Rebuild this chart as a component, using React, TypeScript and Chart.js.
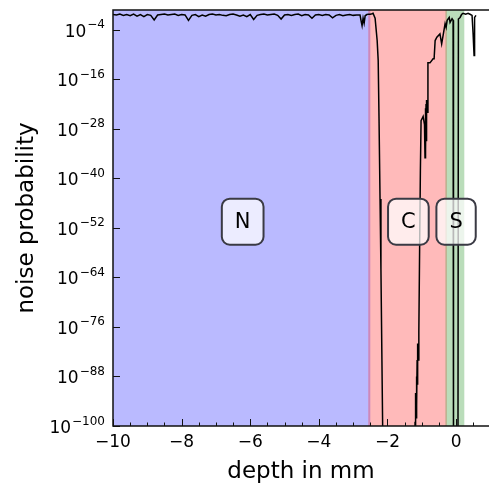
import React, { useEffect, useRef } from 'react';
import { Chart, registerables } from 'chart.js';

Chart.register(...registerables);

// depth in mm (x) and log10 of the noise probability (y)
const depthMm = [
  -10.0, -9.9, -9.8, -9.7, -9.6, -9.5, -9.4, -9.3, -9.2, -9.1,
  -9.0, -8.9, -8.8, -8.7, -8.6, -8.5, -8.4, -8.3, -8.2, -8.1,
  -8.0, -7.9, -7.8, -7.7, -7.6, -7.5, -7.4, -7.3, -7.2, -7.1,
  -7.0, -6.9, -6.8, -6.7, -6.6, -6.5, -6.4, -6.3, -6.2, -6.1,
  -6.0, -5.9, -5.8, -5.7, -5.6, -5.5, -5.4, -5.3, -5.2, -5.1,
  -5.0, -4.9, -4.8, -4.7, -4.6, -4.5, -4.4, -4.3, -4.2, -4.1,
  -4.0, -3.9, -3.8, -3.7, -3.6, -3.5, -3.4, -3.3, -3.2, -3.1,
  -3.0, -2.9, -2.8, -2.76, -2.74, -2.71, -2.68, -2.65, -2.6, -2.55,
  -2.5, -2.45, -2.42, -2.36, -2.3, -2.27, -2.245, -2.216, -2.19, -2.14,
  -2.12,
  -1.21, -1.195, -1.185, -1.175, -1.165, -1.155, -1.145, -1.135, -1.125, -1.115,
  -1.1, -1.085, -1.06, -1.04, -1.02, -0.96, -0.92, -0.905, -0.895, -0.885,
  -0.875, -0.865, -0.855, -0.84, -0.82, -0.76, -0.67, -0.64, -0.61, -0.56,
  -0.47, -0.42, -0.37, -0.32, -0.29, -0.26, -0.2, -0.175, -0.117, -0.087,
  -0.075, 0.055, 0.068, 0.117, 0.16, 0.204, 0.28,
  0.35, 0.42, 0.466, 0.496, 0.525, 0.54, 0.58,
];

const log10Noise = [
  -0.3, -0.4, -0.2, -0.5, -0.3, -0.6, -0.2, -0.7, -0.3, -0.8,
  -0.3, -0.5, -1.6, -0.4, -0.3, -0.2, -0.4, -0.3, -0.2, -0.5,
  -0.3, -0.4, -1.7, -0.5, -0.3, -0.8, -0.4, -0.7, -0.3, -0.2,
  -0.4, -0.3, -0.5, -0.6, -0.3, -0.2, -0.4, -0.7, -0.4, -0.8,
  -0.3, -1.5, -0.5, -0.3, -0.2, -0.4, -0.3, -0.2, -0.5, -1.4,
  -0.4, -0.3, -0.5, -0.3, -0.2, -0.6, -0.3, -0.4, -1.2, -0.4,
  -0.3, -0.5, -0.3, -0.4, -1.1, -0.5, -0.3, -0.6, -0.4, -0.3,
  -0.5, -0.4, -0.4, -2.2, -3.0, -1.2, -2.4, -0.6, -0.3, -0.2,
  -0.2, -0.1, 0.0, -1.2, -6.6, -11.4, -26, -45, -62, -100,
  -110,
  -110, -99, -103, -92, -98, -88, -95, -84, -90, -80,
  -84, -77, -55, -38, -26, -25, -27, -35, -23, -33,
  -22, -31, -21, -24, -12, -12, -11, -11, -6.6, -5.8,
  -5.0, -7.4, -5.0, -2.5, -3.4, -1.7, -1.0, -2.2, -1.3, -1.7,
  -110, -110, -1.4, -1.0, -0.3, 0.0, -0.2,
  0.0, -0.3, -0.5, -4.9, -10.2, -1.0, -0.5,
];

const xTicks = [-10, -8, -6, -4, -2, 0];
const xMinorStep = 0.5;
const yTickExponents = [-100, -88, -76, -64, -52, -40, -28, -16, -4];
const yMinExponent = -100;
const yMaxExponent = 0.8;
const xMin = -10;
const xMax = 0.96;

const regionNames = ['N', 'C', 'S'];
const regionStart = [-10, -2.56, -0.31];
const regionEnd = [-2.5, -0.27, 0.24];
const regionColors = ['rgba(0,0,255,0.27)', 'rgba(255,0,0,0.27)', 'rgba(0,128,0,0.27)'];
const labelDepth = [-6.22, -1.39, 0.0];
const labelExponent = -50.5;

const FONT = '"DejaVu Sans", sans-serif';

function supDigits(e: number): string {
  return (e < 0 ? '\u2212' : '') + String(Math.abs(e));
}

const decorPlugin = {
  id: 'decor',
  beforeDatasetsDraw(chart: any) {
    const { ctx, chartArea: a, scales } = chart;
    const x = scales.x;
    ctx.save();
    ctx.beginPath();
    ctx.rect(a.left, a.top, a.right - a.left, a.bottom - a.top);
    ctx.clip();
    regionStart.forEach((s, i) => {
      const x0 = x.getPixelForValue(s);
      const x1 = x.getPixelForValue(regionEnd[i]);
      ctx.fillStyle = regionColors[i];
      ctx.fillRect(x0, a.top, x1 - x0, a.bottom - a.top);
    });
    ctx.restore();
  },
  afterDatasetsDraw(chart: any) {
    const { ctx, scales } = chart;
    const x = scales.x;
    const y = scales.y;
    ctx.save();
    ctx.font = `21px ${FONT}`;
    ctx.textAlign = 'center';
    ctx.textBaseline = 'middle';
    regionNames.forEach((n, i) => {
      const cx = x.getPixelForValue(labelDepth[i]);
      const cy = y.getPixelForValue(Math.pow(10, labelExponent));
      const w = ctx.measureText(n).width + 26;
      const h = 46;
      ctx.beginPath();
      (ctx as any).roundRect(cx - w / 2, cy - h / 2, w, h, 8);
      ctx.fillStyle = 'rgba(255,255,255,0.72)';
      ctx.fill();
      ctx.lineWidth = 2;
      ctx.strokeStyle = '#3a3a44';
      ctx.stroke();
      ctx.fillStyle = '#000';
      ctx.fillText(n, cx, cy + 1);
    });
    ctx.restore();
  },
  afterDraw(chart: any) {
    const { ctx, chartArea: a, scales } = chart;
    const x = scales.x;
    const y = scales.y;
    ctx.save();
    // frame
    ctx.strokeStyle = '#111';
    ctx.lineWidth = 1.5;
    ctx.beginPath();
    ctx.moveTo(a.right + 2, a.top);
    ctx.lineTo(a.left, a.top);
    ctx.lineTo(a.left, a.bottom);
    ctx.lineTo(a.right + 2, a.bottom);
    ctx.stroke();

    // inward ticks
    ctx.lineWidth = 1;
    ctx.beginPath();
    for (let v = xMin; v <= xMax + 1e-9; v += xMinorStep) {
      const px = Math.round(x.getPixelForValue(v)) + 0.5;
      const major = xTicks.some((t) => Math.abs(t - v) < 1e-6);
      ctx.moveTo(px, a.bottom);
      ctx.lineTo(px, a.bottom - (major ? 7 : 3.5));
    }
    yTickExponents.forEach((e) => {
      const py = Math.round(y.getPixelForValue(Math.pow(10, e))) + 0.5;
      ctx.moveTo(a.left, py);
      ctx.lineTo(a.left + 7, py);
    });
    ctx.stroke();

    // x tick labels
    ctx.fillStyle = '#000';
    ctx.font = `17px ${FONT}`;
    ctx.textAlign = 'center';
    ctx.textBaseline = 'alphabetic';
    xTicks.forEach((t) => {
      const label = t < 0 ? '\u2212' + Math.abs(t) : String(t);
      ctx.fillText(label, x.getPixelForValue(t), a.bottom + 21);
    });

    // y tick labels: 10^e
    yTickExponents.forEach((e) => {
      const py = y.getPixelForValue(Math.pow(10, e));
      const rightX = a.left - 8;
      ctx.font = `12px ${FONT}`;
      const sup = supDigits(e);
      const supW = ctx.measureText(sup).width;
      ctx.textAlign = 'left';
      ctx.fillText(sup, rightX - supW, py - 1.5);
      ctx.font = `17px ${FONT}`;
      const baseW = ctx.measureText('10').width;
      ctx.fillText('10', rightX - supW - baseW - 1, py + 7);
    });

    // axis titles
    ctx.font = `23px ${FONT}`;
    ctx.textAlign = 'center';
    ctx.fillText('depth in mm', (a.left + a.right) / 2, a.bottom + 52);
    ctx.save();
    ctx.translate(33, (a.top + a.bottom) / 2);
    ctx.rotate(-Math.PI / 2);
    ctx.fillText('noise probability', 0, 0);
    ctx.restore();

    ctx.restore();
  },
};

export default function App() {
  const canvasRef = useRef<HTMLCanvasElement | null>(null);

  useEffect(() => {
    const canvas = canvasRef.current;
    if (!canvas) return;
    const points = depthMm.map((d, i) => ({ x: d, y: Math.pow(10, log10Noise[i]) }));
    const chart = new Chart(canvas, {
      type: 'line',
      data: {
        datasets: [
          {
            label: 'noise probability',
            data: points,
            borderColor: '#000',
            borderWidth: 1.5,
            pointRadius: 0,
            fill: false,
            tension: 0,
          },
        ],
      },
      options: {
        animation: false,
        responsive: false,
        devicePixelRatio: 1,
        layout: { padding: { left: 0, right: 0, top: 10, bottom: 0 } },
        plugins: { legend: { display: false }, tooltip: { enabled: false } },
        scales: {
          x: {
            type: 'linear',
            min: xMin,
            max: xMax,
            grid: { display: false },
            border: { display: false },
            ticks: { display: false },
            afterFit: (s: any) => {
              s.height = 61;
            },
          },
          y: {
            type: 'logarithmic',
            min: Math.pow(10, yMinExponent),
            max: Math.pow(10, yMaxExponent),
            grid: { display: false },
            border: { display: false },
            ticks: { display: false },
            afterBuildTicks: (s: any) => {
              s.ticks = yTickExponents.map((e) => ({ value: Math.pow(10, e) }));
            },
            afterFit: (s: any) => {
              s.width = 113;
            },
          },
        },
      } as any,
      plugins: [decorPlugin],
    });
    return () => chart.destroy();
  }, []);

  return (
    <div style={{ position: 'fixed', left: 0, top: 0, width: 489, height: 487, background: '#fff' }}>
      <canvas ref={canvasRef} width={489} height={487} style={{ display: 'block' }} />
    </div>
  );
}
